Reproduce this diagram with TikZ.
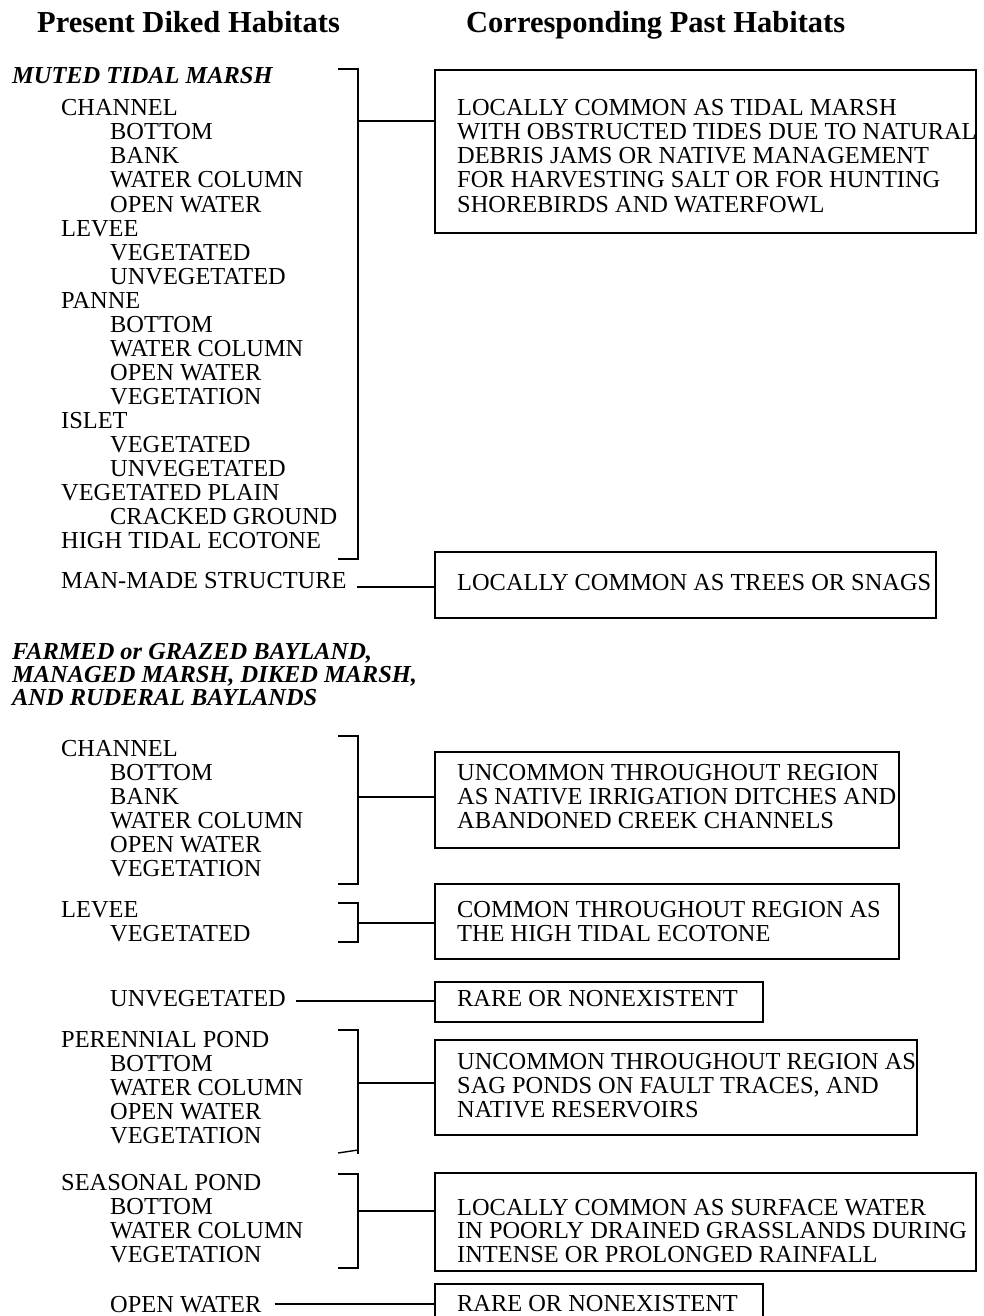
\documentclass[tikz,border=0pt]{standalone}
\usepackage{fontspec}
\setmainfont{Liberation Serif}
\tikzset{
  txt/.style={anchor=base west, inner sep=0pt, font=\fontsize{24.4}{24.4}\selectfont},
  ttl/.style={anchor=base west, inner sep=0pt, font=\fontsize{24.4}{24.4}\selectfont\bfseries\itshape},
  hdr/.style={anchor=base west, inner sep=0pt, font=\fontsize{30.5}{30.5}\selectfont\bfseries},
  pbox/.style={draw, line width=1.6pt, inner sep=0pt, anchor=north west},
  conn/.style={line width=1.4pt},
}
\newcommand\rw[4]{\node[txt] (#1) at (#2,#3) {#4};}
\begin{document}
\begin{tikzpicture}[x=1pt,y=-1pt]
\useasboundingbox (0,0) rectangle (983,1316);
\clip (0,0) rectangle (983,1316);

% headers
\node[hdr] (h1) at (37,33) {Present Diked Habitats};
\node[hdr] (h2) at (466,33) {Corresponding Past Habitats};

% ---------------- section 1
\node[ttl] (t1) at (12,84) {MUTED TIDAL MARSH};
\rw{a0}{61}{116}{CHANNEL}
\rw{a1}{110}{140}{BOTTOM}
\rw{a2}{110}{164}{BANK}
\rw{a3}{110}{188}{WATER COLUMN}
\rw{a4}{110}{212}{OPEN WATER}
\rw{a5}{61}{236}{LEVEE}
\rw{a6}{110}{260}{VEGETATED}
\rw{a7}{110}{284}{UNVEGETATED}
\rw{a8}{61}{308}{PANNE}
\rw{a9}{110}{332}{BOTTOM}
\rw{a10}{110}{356}{WATER COLUMN}
\rw{a11}{110}{380}{OPEN WATER}
\rw{a12}{110}{404}{VEGETATION}
\rw{a13}{61}{428}{ISLET}
\rw{a14}{110}{452}{VEGETATED}
\rw{a15}{110}{476}{UNVEGETATED}
\rw{a16}{61}{500}{VEGETATED PLAIN}
\rw{a17}{110}{524}{CRACKED GROUND}
\rw{a18}{61}{548}{HIGH TIDAL ECOTONE}
\rw{mms}{61}{588}{MAN-MADE STRUCTURE}

\node[pbox, minimum width=541pt, minimum height=163pt] (box1) at (434,69) {};
\rw{p1}{457}{116}{LOCALLY COMMON AS TIDAL MARSH}
\rw{p2}{457}{140}{WITH OBSTRUCTED TIDES DUE TO NATURAL}
\rw{p3}{457}{164}{DEBRIS JAMS OR NATIVE MANAGEMENT}
\rw{p4}{457}{188}{FOR HARVESTING SALT OR FOR HUNTING}
\rw{p5}{457}{212}{SHOREBIRDS AND WATERFOWL}

\node[pbox, minimum width=501pt, minimum height=66pt] (box2) at (434,551) {};
\rw{q1}{457}{590}{LOCALLY COMMON AS TREES OR SNAGS}

\coordinate (b1t) at (338,69);
\coordinate (b1b) at (338,559);
\coordinate (b1m) at (358,121);
\draw[conn] (b1t) -- ++(20,0) |- (b1b);
\draw[conn] (b1m) -- (b1m -| box1.west);
\draw[conn] ([xshift=10pt,yshift=1pt]mms.base east) -- ([yshift=1pt]mms.base east -| box2.west);

% ---------------- section 2
\node[ttl] (t2a) at (12,659) {FARMED or GRAZED BAYLAND,};
\node[ttl] (t2b) at (12,682) {MANAGED MARSH, DIKED MARSH,};
\node[ttl] (t2c) at (12,705) {AND RUDERAL BAYLANDS};

\rw{c0}{61}{756}{CHANNEL}
\rw{c1}{110}{780}{BOTTOM}
\rw{c2}{110}{804}{BANK}
\rw{c3}{110}{828}{WATER COLUMN}
\rw{c4}{110}{852}{OPEN WATER}
\rw{c5}{110}{876}{VEGETATION}
\rw{l0}{61}{917}{LEVEE}
\rw{l1}{110}{941}{VEGETATED}
\rw{uv}{110}{1006}{UNVEGETATED}
\rw{e0}{61}{1047}{PERENNIAL POND}
\rw{e1}{110}{1071}{BOTTOM}
\rw{e2}{110}{1095}{WATER COLUMN}
\rw{e3}{110}{1119}{OPEN WATER}
\rw{e4}{110}{1143}{VEGETATION}
\rw{s0}{61}{1190}{SEASONAL POND}
\rw{s1}{110}{1214}{BOTTOM}
\rw{s2}{110}{1238}{WATER COLUMN}
\rw{s3}{110}{1262}{VEGETATION}
\rw{ow}{110}{1312}{OPEN WATER}

\node[pbox, minimum width=464pt, minimum height=96pt] (boxA) at (434,751) {};
\rw{r1}{457}{780}{UNCOMMON THROUGHOUT REGION}
\rw{r2}{457}{804}{AS NATIVE IRRIGATION DITCHES AND}
\rw{r3}{457}{828}{ABANDONED CREEK CHANNELS}

\node[pbox, minimum width=464pt, minimum height=75pt] (boxB) at (434,883) {};
\rw{u1}{457}{917}{COMMON THROUGHOUT REGION AS}
\rw{u2}{457}{941}{THE HIGH TIDAL ECOTONE}

\node[pbox, minimum width=328pt, minimum height=40pt] (box3) at (434,981) {};
\rw{v1}{457}{1006}{RARE OR NONEXISTENT}

\node[pbox, minimum width=482pt, minimum height=95pt] (boxC) at (434,1039) {};
\rw{w1}{457}{1069}{UNCOMMON THROUGHOUT REGION AS}
\rw{w2}{457}{1093}{SAG PONDS ON FAULT TRACES, AND}
\rw{w3}{457}{1117}{NATIVE RESERVOIRS}

\node[pbox, minimum width=541pt, minimum height=98pt] (boxD) at (434,1172) {};
\rw{x1}{457}{1215}{LOCALLY COMMON AS SURFACE WATER}
\rw{x2}{457}{1238}{IN POORLY DRAINED GRASSLANDS DURING}
\rw{x3}{457}{1262}{INTENSE OR PROLONGED RAINFALL}

\node[pbox, minimum width=328pt, minimum height=60pt] (box5) at (434,1283) {};
\rw{y1}{457}{1311}{RARE OR NONEXISTENT}

% brackets section 2
\coordinate (bAt) at (338,736);
\coordinate (bAb) at (338,884);
\coordinate (bAm) at (358,797);
\draw[conn] (bAt) -- ++(20,0) |- (bAb);
\draw[conn] (bAm) -- (bAm -| boxA.west);

\coordinate (bBt) at (338,903);
\coordinate (bBb) at (338,942);
\coordinate (bBm) at (358,923);
\draw[conn] (bBt) -- ++(20,0) |- (bBb);
\draw[conn] (bBm) -- (bBm -| boxB.west);

\coordinate (bCt) at (338,1030);
\coordinate (bCb) at (338,1153);
\coordinate (bCc) at (358,1150);
\coordinate (bCm) at (358,1083);
\draw[conn] (bCt) -- ++(20,0) -- (358,1154);
\draw[conn] (bCb) -- (bCc);
\draw[conn] (bCm) -- (bCm -| boxC.west);

\coordinate (bDt) at (338,1174);
\coordinate (bDb) at (338,1268);
\coordinate (bDm) at (358,1211);
\draw[conn] (bDt) -- ++(20,0) |- (bDb);
\draw[conn] (bDm) -- (bDm -| boxD.west);

\draw[conn] ([xshift=10pt,yshift=5pt]uv.base east) -- ([yshift=5pt]uv.base east -| box3.west);
\draw[conn] ([xshift=13pt,yshift=8pt]ow.base east) -- ([yshift=8pt]ow.base east -| box5.west);
\end{tikzpicture}
\end{document}
